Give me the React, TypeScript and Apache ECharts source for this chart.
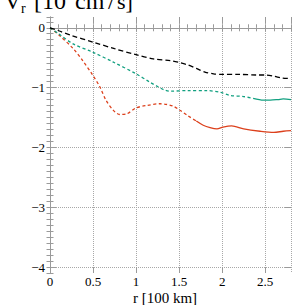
import React, { useEffect, useRef } from "react";
import * as echarts from "echarts";

// ---- data ----
const blackR = [0, 0.1, 0.25, 0.5, 0.75, 1.0, 1.2, 1.4, 1.5, 1.6, 1.7, 1.8, 1.9, 2.0, 2.2, 2.4, 2.5, 2.6, 2.7, 2.8];
const blackV = [0, -0.05, -0.13, -0.24, -0.35, -0.45, -0.52, -0.55, -0.58, -0.62, -0.68, -0.74, -0.77, -0.78, -0.78, -0.79, -0.79, -0.81, -0.84, -0.85];

const greenDashR = [0, 0.1, 0.27, 0.5, 0.73, 1.0, 1.16, 1.26, 1.33, 1.4, 1.6, 1.82, 1.98, 2.09, 2.25, 2.36];
const greenDashV = [0, -0.1, -0.27, -0.41, -0.57, -0.77, -0.91, -0.99, -1.04, -1.06, -1.05, -1.05, -1.08, -1.13, -1.15, -1.18];
const greenSolidR = [2.36, 2.48, 2.56, 2.65, 2.71, 2.8];
const greenSolidV = [-1.18, -1.21, -1.21, -1.2, -1.19, -1.2];

const redDashR = [0, 0.11, 0.27, 0.38, 0.5, 0.58, 0.65, 0.73, 0.81, 0.89, 1.0, 1.12, 1.28, 1.35, 1.43, 1.51, 1.6, 1.7];
const redDashV = [0, -0.13, -0.35, -0.55, -0.8, -0.99, -1.21, -1.37, -1.45, -1.44, -1.34, -1.3, -1.27, -1.28, -1.31, -1.38, -1.47, -1.56];
const redSolidR = [1.7, 1.78, 1.86, 1.94, 2.01, 2.11, 2.25, 2.44, 2.6, 2.71, 2.8];
const redSolidV = [-1.56, -1.63, -1.67, -1.69, -1.66, -1.64, -1.69, -1.73, -1.75, -1.73, -1.72];

const xMin = 0;
const xMax = 2.8;
const yMin = -4.1;
const yMax = 0.18;
const yTickMin = -4;
const yTickMax = 0;

const titleMain = "V";
const titleSub = "r";
const titleUnitA = "[10";
const titleSup = "8";
const titleUnitB = "cm";
const titleUnitC = "/";
const titleUnitD = "s]";
const xName = "r [100 km]";

const pairs = (xs: number[], ys: number[]) => xs.map((x, i) => [x, ys[i]]);

const FONT = "Liberation Serif";
const FRAME = "#9a9a9a";
const GRIDC = "#a8a8a8";

export default function App() {
  const ref = useRef<HTMLDivElement>(null);
  useEffect(() => {
    if (!ref.current) return;
    const chart = echarts.init(ref.current, null, { renderer: "svg" });
    const H = 305;
    const g0 = { left: 50, right: 14, top: 17, bottom: 32 };
    const plotH = H - g0.top - g0.bottom;
    const pxPerUnit = plotH / (yMax - yMin);
    const t1 = g0.top + (yMax - yTickMax) * pxPerUnit;
    const b1 = g0.bottom + (yTickMin - yMin) * pxPerUnit;

    const minorTick = { inside: true, length: 3.5, lineStyle: { color: FRAME, width: 1 } };
    const majorTick = { inside: true, length: 6, lineStyle: { color: FRAME, width: 1 } };
    const labelStyle = { fontFamily: FONT, fontSize: 13, color: "#000" };
    const fmtNum = (v: number) => (v < 0 ? "\u2212" + Math.abs(v) : String(v));
    const txt = (text: string, x: number, y: number, size: number, align = "left") => ({
      type: "text", x, y,
      style: { text, font: `${size}px "${FONT}"`, fill: "#000", verticalAlign: "middle", align },
    });

    const option: any = {
      animation: false,
      grid: [
        { ...g0 },
        { left: g0.left, right: g0.right, top: t1, bottom: b1 },
      ],
      xAxis: [
        { gridIndex: 0, type: "value", min: xMin, max: xMax, interval: 0.1, position: "bottom",
          axisLine: { show: true, lineStyle: { color: FRAME } }, axisTick: minorTick,
          axisLabel: { show: false }, splitLine: { show: false } },
        { gridIndex: 0, type: "value", min: xMin, max: xMax, interval: 0.1, position: "top",
          axisLine: { show: true, lineStyle: { color: FRAME } }, axisTick: minorTick,
          axisLabel: { show: false }, splitLine: { show: false } },
        { gridIndex: 0, type: "value", min: xMin, max: xMax, interval: 0.5, position: "bottom",
          axisLine: { show: false }, axisTick: majorTick,
          axisLabel: { ...labelStyle, margin: 2, showMaxLabel: false, formatter: fmtNum },
          splitLine: { show: true, lineStyle: { type: "dotted", color: GRIDC, width: 1 } } },
        { gridIndex: 0, type: "value", min: xMin, max: xMax, interval: 0.5, position: "top",
          axisLine: { show: false }, axisTick: majorTick,
          axisLabel: { show: false }, splitLine: { show: false } },
        { gridIndex: 1, type: "value", min: xMin, max: xMax, show: false },
      ],
      yAxis: [
        { gridIndex: 0, type: "value", min: yMin, max: yMax, interval: 0.1, position: "left",
          axisLine: { show: true, lineStyle: { color: FRAME } }, axisTick: minorTick,
          axisLabel: { show: false }, splitLine: { show: false } },
        { gridIndex: 0, type: "value", min: yMin, max: yMax, interval: 0.1, position: "right",
          axisLine: { show: true, lineStyle: { color: FRAME } }, axisTick: minorTick,
          axisLabel: { show: false }, splitLine: { show: false } },
        { gridIndex: 1, type: "value", min: yTickMin, max: yTickMax, interval: 1, position: "left",
          axisLine: { show: false }, axisTick: majorTick,
          axisLabel: { ...labelStyle, margin: 5, formatter: fmtNum },
          splitLine: { show: true, lineStyle: { type: "dotted", color: GRIDC, width: 1 } } },
        { gridIndex: 1, type: "value", min: yTickMin, max: yTickMax, interval: 1, position: "right",
          axisLine: { show: false }, axisTick: majorTick,
          axisLabel: { show: false }, splitLine: { show: false } },
      ],
      series: [
        { type: "line", xAxisIndex: 0, yAxisIndex: 0, data: pairs(blackR, blackV), smooth: 0.3,
          symbol: "none", lineStyle: { color: "#000", width: 1.3, type: [5, 3] }, z: 5 },
        { type: "line", xAxisIndex: 0, yAxisIndex: 0, data: pairs(greenDashR, greenDashV), smooth: 0.3,
          symbol: "none", lineStyle: { color: "#12a080", width: 1.3, type: [3, 2.5] }, z: 4 },
        { type: "line", xAxisIndex: 0, yAxisIndex: 0, data: pairs(greenSolidR, greenSolidV), smooth: 0.3,
          symbol: "none", lineStyle: { color: "#12a080", width: 1.3 }, z: 4 },
        { type: "line", xAxisIndex: 0, yAxisIndex: 0, data: pairs(redDashR, redDashV), smooth: 0.3,
          symbol: "none", lineStyle: { color: "#dc401c", width: 1.3, type: [3, 2.5] }, z: 3 },
        { type: "line", xAxisIndex: 0, yAxisIndex: 0, data: pairs(redSolidR, redSolidV), smooth: 0.3,
          symbol: "none", lineStyle: { color: "#dc401c", width: 1.3 }, z: 3 },
      ],
      graphic: [
        txt(titleMain, 4, 1, 24),
        txt(titleSub, 21, 8, 14),
        txt(titleUnitA, 34, 1, 24),
        txt(titleSup, 66, -9, 14),
        txt(titleUnitB, 75, 1, 24),
        txt(titleUnitC, 108, 1, 24),
        txt(titleUnitD, 117, 1, 22),
        txt(xName, 165, 298, 15, "center"),
      ],
    };
    chart.setOption(option);
    return () => chart.dispose();
  }, []);
  return (
    <div
      ref={ref}
      style={{ position: "fixed", left: 0, top: 0, width: 305, height: 305, background: "#fff" }}
    />
  );
}
